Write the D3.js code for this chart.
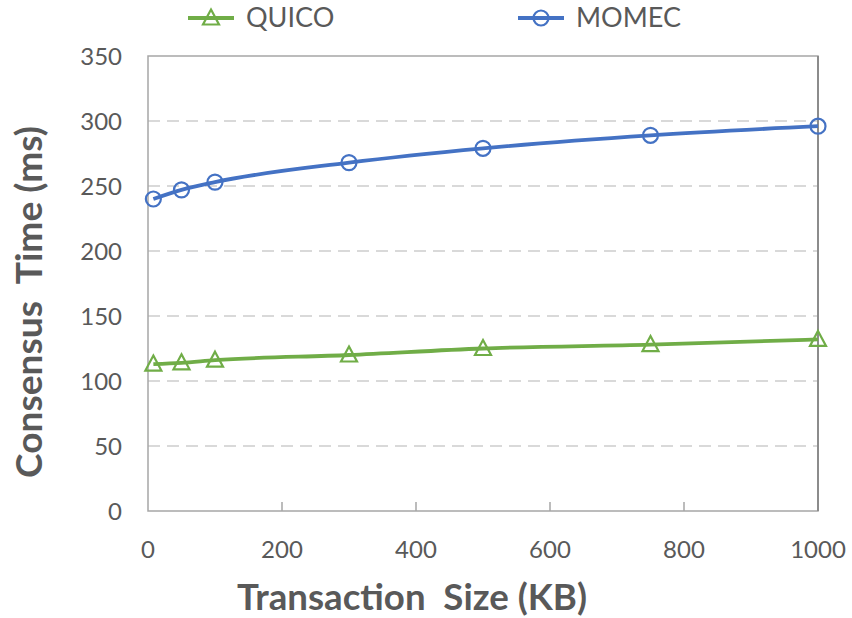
<!DOCTYPE html>
<html><head><meta charset="utf-8">
<script src="https://cdn.jsdelivr.net/npm/d3@7"></script>
<style>body{margin:0;background:#fff;} text{font-family:Lato, "Open Sans", sans-serif;}</style>
</head><body><svg id="c" width="852" height="618"></svg>
<script>
const sizes = [8, 50, 100, 300, 500, 750, 1000];
const quico = [113, 114, 116, 120, 125, 128, 132];
const momec = [240, 247, 253, 268, 279, 289, 296];
const xTicks = [0, 200, 400, 600, 800, 1000];
const yTicks = [0, 50, 100, 150, 200, 250, 300, 350];
const seriesNames = ["QUICO", "MOMEC"];

const svg = d3.select("#c");
const x = d3.scaleLinear().domain([0, 1000]).range([148, 818]);
const y = d3.scaleLinear().domain([0, 350]).range([511, 56]);
const txt = "#595959";

// gridlines
svg.append("g").selectAll("line").data(yTicks.filter(v => v > 0 && v < 350)).join("line")
  .attr("x1", x(0)).attr("x2", x(1000)).attr("y1", d => y(d)).attr("y2", d => y(d))
  .attr("stroke", "#D9D9D9").attr("stroke-width", 2).attr("stroke-dasharray", "12,7");

// frame
svg.append("rect").attr("x", x(0)).attr("y", y(350)).attr("width", x(1000) - x(0)).attr("height", y(0) - y(350))
  .attr("fill", "none").attr("stroke", "#A6A6A6").attr("stroke-width", 1.5);
svg.append("line").attr("x1", x(1000)).attr("x2", x(1000)).attr("y1", y(350)).attr("y2", y(0))
  .attr("stroke", "#8C8C8C").attr("stroke-width", 2);

// x inner ticks
svg.append("g").selectAll("line").data(xTicks.filter(v => v > 0 && v < 1000)).join("line")
  .attr("x1", d => x(d)).attr("x2", d => x(d)).attr("y1", y(0)).attr("y2", y(0) - 9)
  .attr("stroke", "#A6A6A6").attr("stroke-width", 1.5);

// tick labels
svg.append("g").selectAll("text").data(xTicks).join("text")
  .attr("x", d => x(d)).attr("y", 558).attr("text-anchor", "middle")
  .attr("font-size", 24).attr("fill", txt).text(d => d);
svg.append("g").selectAll("text").data(yTicks).join("text")
  .attr("x", 122).attr("y", d => y(d) + 8.5).attr("text-anchor", "end")
  .attr("font-size", 24).attr("fill", txt).text(d => d);

// axis titles
svg.append("text").attr("x", 412).attr("y", 610).attr("text-anchor", "middle")
  .attr("font-size", 36).attr("font-weight", "bold").attr("fill", txt)
  .attr("textLength", 350).attr("lengthAdjust", "spacingAndGlyphs")
  .text("Transaction\u00A0\u00A0Size (KB)");
svg.append("text").attr("transform", "translate(42,302) rotate(-90)").attr("text-anchor", "middle")
  .attr("font-size", 36).attr("font-weight", "bold").attr("fill", txt)
  .attr("textLength", 352).attr("lengthAdjust", "spacingAndGlyphs")
  .text("Consensus\u00A0\u00A0Time (ms)");

const colors = {QUICO: "#70AD47", MOMEC: "#4472C4"};
const data = {QUICO: quico, MOMEC: momec};
const line = d3.line().x(d => x(d[0])).y(d => y(d[1])).curve(d3.curveMonotoneX);

const triPath = "M0,-8.5L8,6.5L-8,6.5Z";

seriesNames.forEach(name => {
  const pts = sizes.map((s, i) => [s, data[name][i]]);
  svg.append("path").attr("d", line(pts)).attr("fill", "none")
    .attr("stroke", colors[name]).attr("stroke-width", 3.8);
  const g = svg.append("g");
  if (name === "QUICO") {
    g.selectAll("path").data(pts).join("path")
      .attr("transform", d => `translate(${x(d[0])},${y(d[1])})`).attr("d", triPath)
      .attr("fill", "none").attr("stroke", colors[name]).attr("stroke-width", 2.2);
  } else {
    g.selectAll("circle").data(pts).join("circle")
      .attr("cx", d => x(d[0])).attr("cy", d => y(d[1])).attr("r", 7.5)
      .attr("fill", "none").attr("stroke", colors[name]).attr("stroke-width", 2.2);
  }
});

// legend
const legend = [{name: "QUICO", x0: 188}, {name: "MOMEC", x0: 518}];
legend.forEach(l => {
  const g = svg.append("g");
  g.append("line").attr("x1", l.x0).attr("x2", l.x0 + 46).attr("y1", 18).attr("y2", 18)
    .attr("stroke", colors[l.name]).attr("stroke-width", 3.8);
  if (l.name === "QUICO") {
    g.append("path").attr("transform", `translate(${l.x0 + 23},18)`).attr("d", triPath)
      .attr("fill", "none").attr("stroke", colors[l.name]).attr("stroke-width", 2.2);
  } else {
    g.append("circle").attr("cx", l.x0 + 23).attr("cy", 18).attr("r", 7.5)
      .attr("fill", "none").attr("stroke", colors[l.name]).attr("stroke-width", 2.2);
  }
  g.append("text").attr("x", l.x0 + 58).attr("y", 27).attr("font-size", 27).attr("fill", txt).text(l.name);
});
</script></body></html>
